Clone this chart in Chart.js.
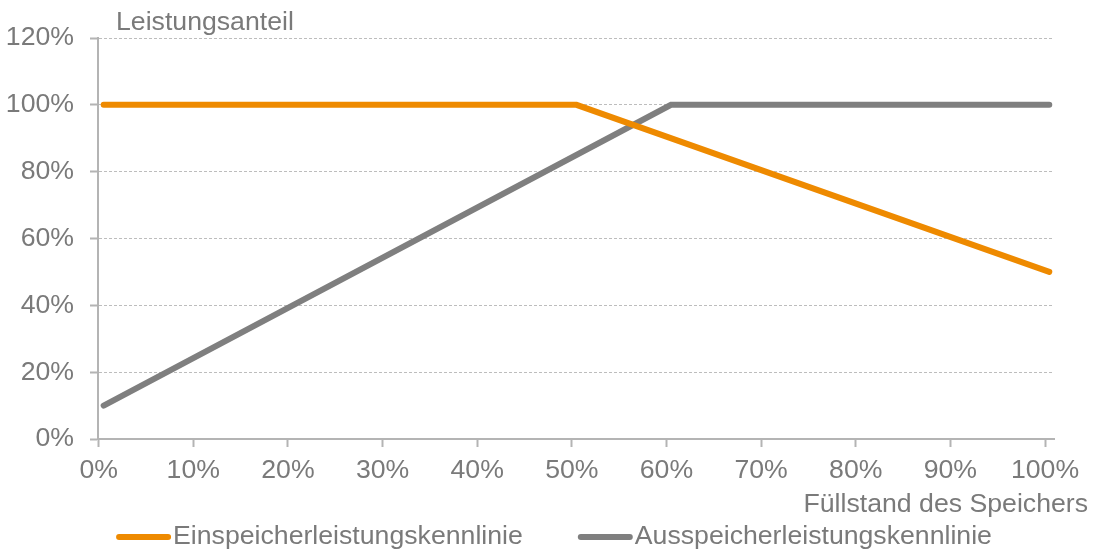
<!DOCTYPE html>
<html>
<head>
<meta charset="utf-8">
<script src="https://cdn.jsdelivr.net/npm/chart.js@4/dist/chart.umd.min.js"></script>
<style>
  body { margin: 0; background: #fff; }
  #wrap { width: 1098px; height: 550px; }
</style>
</head>
<body>
<div id="wrap"><canvas id="kennlinien"></canvas></div>
<script>
// Füllstand (x, %) und Leistungsanteil (y, %)
const einspeicherX = [0, 50, 100]
const einspeicherY = [100, 100, 50]
const ausspeicherX = [0, 60, 100]
const ausspeicherY = [10, 100, 100]
const xTicks = [0, 10, 20, 30, 40, 50, 60, 70, 80, 90, 100]
const seriesNames = ['Einspeicherleistungskennlinie', 'Ausspeicherleistungskennlinie']
const seriesColors = ['#ee8a00', '#7f7f7f']

const textColor = '#7a7a7a'
const axisColor = '#b4b4b4'
const gridColor = '#bdbdbd'
const fontFamily = "'Liberation Sans', Arial, sans-serif"
const fontSize = 26.67

const toPoints = (xs, ys) => xs.map((x, i) => ({ x: x, y: ys[i] }))

// axis titles and legend drawn by hand, the Excel look is hard to get otherwise
const extraText = {
  id: 'extraText',
  afterDraw(chart) {
    const ctx = chart.ctx
    const area = chart.chartArea
    ctx.save()
    ctx.font = fontSize + 'px ' + fontFamily
    ctx.fillStyle = textColor
    ctx.textBaseline = 'middle'
    ctx.textAlign = 'left'
    ctx.fillText('Leistungsanteil', area.left + 18, 23)
    ctx.textAlign = 'right'
    ctx.fillText('Füllstand des Speichers', area.right + 34, 505)

    // legend
    const sample = 55, gap = 2, itemGap = 55, y = 537
    const widths = chart.data.datasets.map(d => sample + gap + ctx.measureText(d.label).width)
    const total = widths.reduce((a, b) => a + b, 0) + itemGap * (widths.length - 1)
    let x = (area.left + area.right) / 2 - 22 - total / 2
    ctx.textAlign = 'left'
    chart.data.datasets.forEach((d, i) => {
      ctx.strokeStyle = d.borderColor
      ctx.lineWidth = 6
      ctx.lineCap = 'round'
      ctx.beginPath()
      ctx.moveTo(x + 3, y)
      ctx.lineTo(x + sample - 3, y)
      ctx.stroke()
      ctx.fillStyle = textColor
      ctx.fillText(d.label, x + sample + gap, y)
      x += widths[i] + itemGap
    })
    ctx.restore()
  }
}

const config = {
  type: 'line',
  data: {
    datasets: [
      {
        label: seriesNames[0],
        data: toPoints(einspeicherX, einspeicherY),
        borderColor: seriesColors[0],
        backgroundColor: seriesColors[0],
        xAxisID: 'xd',
      },
      {
        label: seriesNames[1],
        data: toPoints(ausspeicherX, ausspeicherY),
        borderColor: seriesColors[1],
        backgroundColor: seriesColors[1],
        xAxisID: 'xd',
      },
    ],
  },
  options: {
    responsive: true,
    maintainAspectRatio: false,
    animation: false,
    layout: { padding: { top: 38, right: 44, left: 0, bottom: 0 } },
    elements: {
      line: { borderWidth: 6, tension: 0, borderCapStyle: 'round' },
      point: { radius: 0, hoverRadius: 0 },
    },
    plugins: {
      legend: { display: false },
      tooltip: { enabled: false },
    },
    scales: {
      // data axis, the Excel original draws its lines a few px right of the ticks
      xd: {
        type: 'linear',
        display: false,
        min: -0.6,
        max: 100.5,
      },
      x: {
        type: 'linear',
        min: -0.07,
        max: 100.95,
        afterBuildTicks: (scale) => { scale.ticks = xTicks.map(v => ({ value: v })) },
        afterFit: (scale) => { scale.height = 111 },
        border: { color: axisColor, width: 2 },
        grid: { drawOnChartArea: false, tickLength: 8, tickColor: axisColor, tickWidth: 2 },
        ticks: {
          color: textColor,
          padding: 8,
          maxRotation: 0,
          autoSkip: false,
          font: { family: fontFamily, size: fontSize },
          callback: (v) => v + '%',
        },
      },
      y: {
        min: 0,
        max: 120,
        afterFit: (scale) => { scale.width = 98 },
        border: { color: axisColor, width: 2, dash: [3, 2] },
        grid: {
          color: (c) => (c.tick && c.tick.value === 0 ? 'rgba(0,0,0,0)' : gridColor),
          lineWidth: 1,
          tickBorderDash: [1, 0],
          tickLength: 8,
          tickColor: axisColor,
          tickWidth: 2,
        },
        ticks: {
          stepSize: 20,
          color: textColor,
          padding: 16,
          font: { family: fontFamily, size: fontSize },
          callback: (v) => v + '%',
        },
      },
    },
  },
  plugins: [extraText],
}

const ctx = document.getElementById('kennlinien')
window.kennlinienChart = new Chart(ctx, config)
</script>
</body>
</html>
